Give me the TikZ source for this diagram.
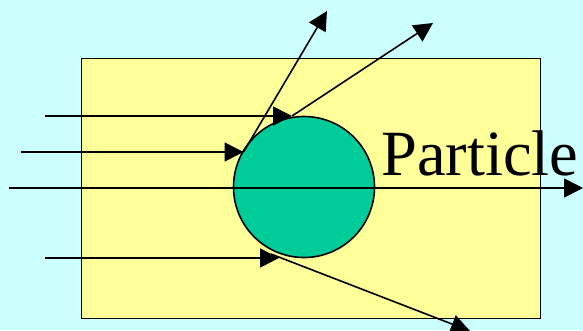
\documentclass[tikz,border=0pt]{standalone}
\usepackage{fontspec}
\setmainfont{Liberation Serif}
\usetikzlibrary{arrows.meta}
\definecolor{bgcyan}{HTML}{CCFFFF}
\definecolor{boxyellow}{HTML}{FFFF99}
\definecolor{partgreen}{HTML}{00CC99}
\begin{document}
\begin{tikzpicture}[x=1pt,y=-1pt,
  ray/.style={line width=1.6pt,-{Triangle[length=19pt,width=19pt]}},
  outline/.style={draw=black,line width=1.6pt}]
\fill[bgcyan] (0,0) rectangle (583,330);
\useasboundingbox (0,0) rectangle (583,330);
\node[outline,fill=boxyellow,minimum width=459pt,minimum height=260pt,inner sep=0pt,anchor=north west] (box) at (80.5,57.5) {};
\node[outline,fill=partgreen,circle,minimum size=141pt,inner sep=0pt] (particle) at (304,187) {};
% named end points
\coordinate (s1) at (45,116);
\coordinate (h1) at (292,116);
\coordinate (e1) at (433,23);
\coordinate (s2) at (21,152);
\coordinate (h2) at (243.5,152);
\coordinate (e2) at (327,11);
\coordinate (s3) at (9,188);
\coordinate (e3) at (583,188);
\coordinate (s4) at (45,258);
\coordinate (h4) at (279,258);
\coordinate (o4) at (271,254);
\coordinate (e4) at (470,331);
\draw[ray] (s1) -- (h1);
\draw[ray] (h1) -- (e1);
\draw[ray] (s2) -- (h2);
\draw[ray] (h2) -- (e2);
\draw[ray] (s3) -- (e3);
\draw[ray] (s4) -- (h4);
\draw[ray] (o4) -- (e4);
\node[anchor=base west,inner sep=0pt,font=\fontsize{64.5}{64.5}\selectfont] (label) at (381,175) {Particle};
\end{tikzpicture}
\end{document}
